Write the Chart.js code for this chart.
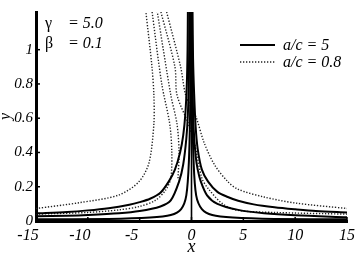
<!DOCTYPE html>
<html><head><meta charset="utf-8">
<script src="https://cdn.jsdelivr.net/npm/chart.js@4"></script>
<style>html,body{margin:0;padding:0;background:#fff}#wrap{width:360px;height:258px;position:relative}</style>
</head><body><div id="wrap"><canvas id="c"></canvas></div>
<script>
const xTicks = [-15,-10,-5,0,5,10,15];
const yTicks = [0,0.2,0.4,0.6,0.8,1];
const legendLabels = ['a/c = 5','a/c = 0.8'];
const paramNames = ['γ','β'];
const paramValues = ['= 5.0','= 0.1'];

// a/c = 5 (solid)
const s1Lx = [-15,-12,-10,-8,-6,-5,-4,-3,-2.2,-1.6,-1.1,-0.8,-0.6,-0.45,-0.38,-0.35];
const s1Ly = [0.045,0.053,0.062,0.075,0.095,0.11,0.13,0.165,0.23,0.3,0.4,0.5,0.62,0.8,1.0,1.22];
const s1Rx = [0.1,0.15,0.25,0.4,0.6,1.0,1.6,2.5,3.5,4.5,6,8,10,12,15];
const s1Ry = [1.22,0.95,0.75,0.55,0.42,0.3,0.23,0.17,0.14,0.118,0.097,0.08,0.068,0.058,0.05];
const s2Lx = [-15,-12,-10,-7,-5,-3,-2,-1.2,-0.8,-0.5,-0.35,-0.25,-0.2];
const s2Ly = [0.028,0.031,0.035,0.045,0.058,0.085,0.12,0.23,0.33,0.48,0.62,0.85,1.22];
const s2Rx = [0.05,0.1,0.2,0.4,0.6,0.9,1.5,2.5,4.5,7,10,15];
const s2Ry = [1.22,0.8,0.55,0.38,0.3,0.23,0.15,0.1,0.065,0.045,0.033,0.022];
const s3Lx = [-15,-8,-4,-2,-1,-0.5,-0.25,-0.12,-0.08];
const s3Ly = [0.01,0.012,0.02,0.035,0.07,0.15,0.35,0.7,1.22];
const s3Rx = [0.04,0.08,0.2,0.45,1,2,4,8,15];
const s3Ry = [1.22,0.7,0.35,0.15,0.07,0.035,0.02,0.012,0.01];
const s4x = [0,0];
const s4y = [0,1.22];

// a/c = 0.8 (dotted)
const d1x = [-15,-10.8,-7,-5.06,-4.1,-3.63,-3.63,-3.82,-4.4];
const d1y = [0.073,0.107,0.152,0.23,0.34,0.567,0.736,0.904,1.22];
const d2x = [-15,-10,-7,-5,-3.5,-2.5,-2.0,-1.9,-2.1,-2.87,-3.8];
const d2y = [0.04,0.05,0.065,0.085,0.12,0.18,0.25,0.4,0.567,0.8,1.22];
const d3x = [-1.3,-1.2,-1.4,-2.0,-3.3];
const d3y = [0.25,0.4,0.567,0.736,1.22];
const r1x = [-2.4,-1.05,-0.57,0.0,0.48,1.2,2.2,3.5,4.5,7,10,15];
const r1y = [1.22,0.9,0.736,0.66,0.6,0.46,0.33,0.23,0.185,0.14,0.105,0.073];
const r2x = [-2.95,-1.6,-1.4,-0.3,0.3,1.0,1.6,3,4.5,8,15];
const r2y = [1.22,0.9,0.736,0.567,0.45,0.25,0.19,0.1,0.062,0.05,0.04];

function pts(xs, ys){ return xs.map((x,i)=>({x:x, y:ys[i]})); }
function solid(xs, ys, w){ return {data: pts(xs,ys), showLine:true, pointRadius:0, borderColor:'#000', borderWidth:w||2, tension:0.3, fill:false}; }
function dotted(xs, ys){ return {data: pts(xs,ys), showLine:true, pointRadius:0, borderColor:'#222', borderWidth:1.4, borderDash:[1.3,1.7], tension:0.3, fill:false}; }

const serif = "'Liberation Serif','Times New Roman',serif";

const overlay = {
  id:'overlay',
  afterDraw(chart){
    const ctx = chart.ctx;
    const xs = chart.scales.x, ys = chart.scales.y;
    const ca = chart.chartArea;
    ctx.save();
    ctx.strokeStyle = '#000';
    ctx.lineWidth = 1.5;
    yTicks.forEach(v=>{ const p = ys.getPixelForValue(v); ctx.beginPath(); ctx.moveTo(ca.left, p); ctx.lineTo(ca.left+4, p); ctx.stroke(); });
    xTicks.forEach(v=>{ const p = xs.getPixelForValue(v); ctx.beginPath(); ctx.moveTo(p, ca.bottom); ctx.lineTo(p, ca.bottom-4); ctx.stroke(); });
    // parameters
    ctx.fillStyle = '#000';
    ctx.textBaseline = 'alphabetic';
    paramNames.forEach((n,i)=>{
      const y = 28 + i*20;
      ctx.font = "16px " + serif;
      ctx.fillText(n, 45, y);
      ctx.font = "italic 16px " + serif;
      ctx.fillText(paramValues[i], 68, y);
    });
    // legend
    const lx0 = 240, lx1 = 275;
    [45, 62].forEach((ly,i)=>{
      ctx.beginPath();
      ctx.lineWidth = i===0 ? 2.2 : 1.4;
      ctx.setLineDash(i===0 ? [] : [1.3,1.7]);
      ctx.strokeStyle = i===0 ? '#000' : '#222';
      ctx.moveTo(lx0, ly); ctx.lineTo(lx1, ly); ctx.stroke();
      ctx.setLineDash([]);
      ctx.font = "italic 16px " + serif;
      ctx.fillText(legendLabels[i], 283, ly+5);
    });
    ctx.restore();
  }
};

new Chart(document.getElementById('c'), {
  type:'scatter',
  data:{ datasets:[
    solid(s1Lx,s1Ly), solid(s1Rx,s1Ry), solid(s2Lx,s2Ly), solid(s2Rx,s2Ry),
    solid(s3Lx,s3Ly), solid(s3Rx,s3Ry), solid(s4x,s4y,1.6),
    dotted(d1x,d1y), dotted(d2x,d2y), dotted(d3x,d3y), dotted(r1x,r1y), dotted(r2x,r2y)
  ]},
  options:{
    responsive:true, maintainAspectRatio:false, animation:false,
    layout:{padding:{top:3,right:10,left:0,bottom:0}},
    plugins:{legend:{display:false}, tooltip:{enabled:false}},
    scales:{
      x:{ type:'linear', min:-15, max:15,
          afterBuildTicks(s){ s.ticks = xTicks.map(v=>({value:v})); },
          afterFit(s){ s.height = 37; },
          grid:{display:false, drawTicks:false},
          border:{display:true, color:'#000', width:3},
          ticks:{ padding:5, color:'#000', maxRotation:0, autoSkip:false,
                  font:{family:serif, style:'italic', size:16},
                  callback:(v)=> v<0 ? String(v)+'\u2003' : String(v) },
          title:{display:true, text:'x', color:'#000', padding:{top:-2,bottom:0}, font:{family:serif, style:'italic', size:18}}
      },
      y:{ type:'linear', min:0, max:1.22,
          afterBuildTicks(s){ s.ticks = yTicks.map(v=>({value:v})); },
          afterFit(s){ s.width = 36; },
          grid:{display:false, drawTicks:false},
          border:{display:true, color:'#000', width:3},
          ticks:{ padding:3, color:'#000', autoSkip:false,
                  font:{family:serif, style:'italic', size:15},
                  callback:(v)=> String(v) },
          title:{display:true, text:'y', color:'#000', padding:{top:-4,bottom:0}, font:{family:serif, style:'italic', size:16}}
      }
    }
  },
  plugins:[overlay]
});
</script></body></html>
